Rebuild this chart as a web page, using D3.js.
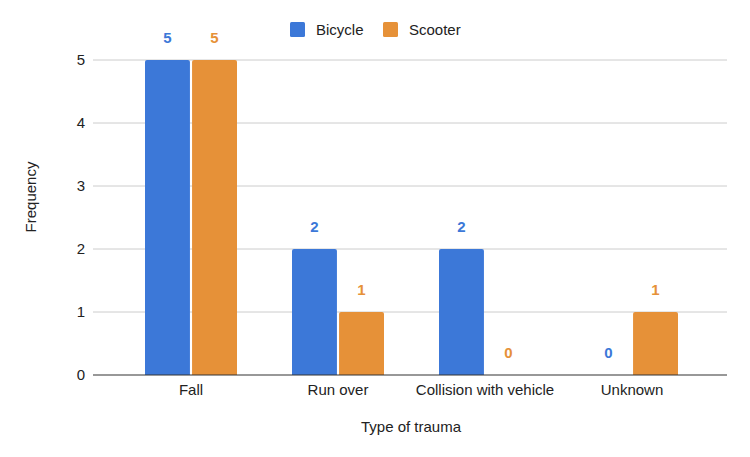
<!DOCTYPE html>
<html><head><meta charset="utf-8">
<script src="https://cdn.jsdelivr.net/npm/d3@7/dist/d3.min.js"></script>
<style>body{margin:0;background:#fff}text{font-family:"Liberation Sans",Arial,sans-serif}</style>
</head><body><svg id="c" width="750" height="457"></svg>
<script>
const categories = ["Fall", "Run over", "Collision with vehicle", "Unknown"];
const seriesNames = ["Bicycle", "Scooter"];
const bicycle = [5, 2, 2, 0];
const scooter = [5, 1, 0, 1];
const yTicks = [0, 1, 2, 3, 4, 5];
const colors = ["#3c78d8", "#e69138"];

const svg = d3.select("#c");
const plotL = 93, plotR = 727, plotT = 60, plotB = 375;
const fs = 15;
const y = d3.scaleLinear().domain([0, 5]).range([plotB, plotT]);
const x = d3.scaleBand().domain(categories).range([117.5, 705.5]);
const xi = d3.scaleBand().domain(seriesNames).range([x.bandwidth()/2 - 46, x.bandwidth()/2 + 46]).paddingInner(0.045);

// gridlines
svg.append("g").selectAll("line").data(yTicks.filter(d=>d>0)).join("line")
  .attr("x1", plotL).attr("x2", plotR).attr("y1", d=>y(d)).attr("y2", d=>y(d))
  .attr("stroke", "#cccccc").attr("stroke-width", 1);

// y tick labels
svg.append("g").selectAll("text").data(yTicks).join("text")
  .attr("x", 85).attr("y", d=>y(d)+5).attr("text-anchor","end")
  .attr("font-size", fs).attr("fill", "#222").text(d=>d);

const data = categories.map((c,i)=>({cat:c, vals:[bicycle[i], scooter[i]]}));
const g = svg.append("g").selectAll("g").data(data).join("g")
  .attr("transform", d=>`translate(${x(d.cat)},0)`);
g.selectAll("path").data(d=>d.vals.map((v,j)=>({v, s:seriesNames[j], j}))).join("path")
  .attr("fill", d=>colors[d.j])
  .attr("d", d=>{
    const x0 = xi(d.s), w = xi.bandwidth(), y0 = y(d.v), h = plotB - y0, r = Math.min(2, h);
    if (h <= 0) return "";
    return `M${x0},${plotB}V${y0+r}Q${x0},${y0} ${x0+r},${y0}H${x0+w-r}Q${x0+w},${y0} ${x0+w},${y0+r}V${plotB}Z`;
  });
g.selectAll("text").data(d=>d.vals.map((v,j)=>({v, s:seriesNames[j], j}))).join("text")
  .attr("x", d=>xi(d.s)+xi.bandwidth()/2).attr("y", d=>y(d.v)-17)
  .attr("text-anchor","middle").attr("font-size",fs).attr("font-weight","bold")
  .attr("fill", d=>colors[d.j]).text(d=>d.v);

// baseline
svg.append("line").attr("x1", plotL).attr("x2", plotR).attr("y1", plotB).attr("y2", plotB)
  .attr("stroke", "#333").attr("stroke-width", 1.2);

// category labels
svg.append("g").selectAll("text").data(categories).join("text")
  .attr("x", d=>x(d)+x.bandwidth()/2).attr("y", 395).attr("text-anchor","middle")
  .attr("font-size",fs).attr("fill","#222").text(d=>d);

// axis titles
svg.append("text").attr("x", 411).attr("y", 432).attr("text-anchor","middle")
  .attr("font-size",fs).attr("fill","#222").text("Type of trauma");
svg.append("text").attr("transform","translate(36,197) rotate(-90)").attr("text-anchor","middle")
  .attr("font-size",fs).attr("fill","#222").text("Frequency");

// legend
const legX = [290, 383];
const lg = svg.append("g").selectAll("g").data(seriesNames).join("g")
  .attr("transform",(d,i)=>`translate(${legX[i]},22)`);
lg.append("rect").attr("width",15).attr("height",15).attr("rx",1.5).attr("fill",(d,i)=>colors[i]);
lg.append("text").attr("x",26).attr("y",13).attr("font-size",fs).attr("fill","#222").text(d=>d);
</script></body></html>
